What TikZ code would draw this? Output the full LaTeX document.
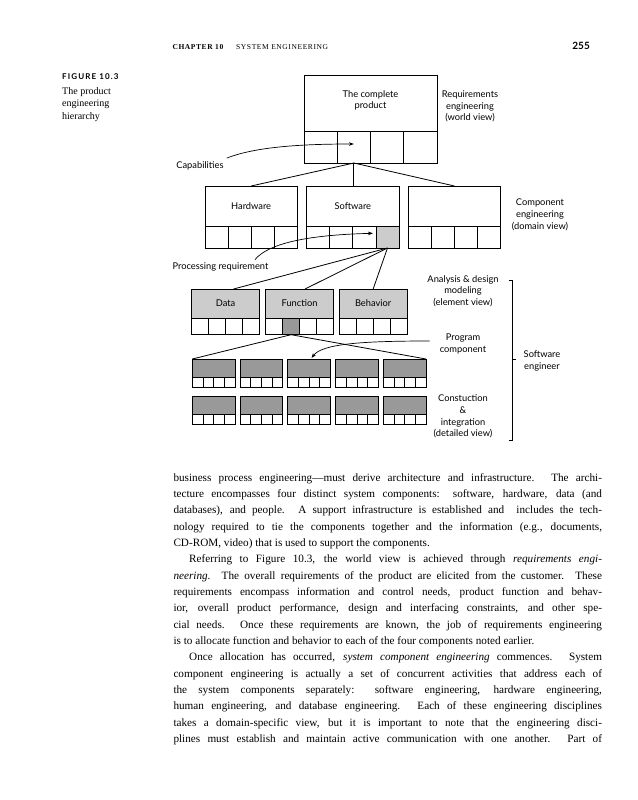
\documentclass[tikz,border=0pt]{standalone}
\usepackage{fontspec}
\setmainfont{Liberation Serif}
\newfontfamily\dsans{Lato}
\newfontfamily\hdr[LetterSpace=8]{Liberation Serif}
\newfontfamily\figlab[LetterSpace=14]{Lato}
\usetikzlibrary{calc,arrows.meta}
\definecolor{lightg}{gray}{0.80}
\definecolor{darkg}{gray}{0.60}
\newcommand\bodyfont{\fontsize{11.2}{16}\selectfont}
\newcommand\jline[1]{\makebox[428.5pt][s]{#1}}
\def\shadecol{white}
\newcommand\compbox[9]{%
  \node[bx, fill=#7, minimum width=#4pt, minimum height=#5pt] (#1) at (#2,#3) {#8};
  \foreach \k in {1,2,3,4}{%
    \ifnum\k=#9\relax\edef\cf{\shadecol}\else\def\cf{white}\fi
    \node[bx, fill=\cf, minimum width=#4pt/4, minimum height=#6pt] (#1-\k) at ($(#1.south west)+({(\k-1)*#4/4},0)$) {};
  }%
}
\tikzset{
  bx/.style={draw, line width=0.8pt, inner sep=0pt, outer sep=0pt, anchor=north west, font=\dsans\fontsize{9.3}{11}\selectfont},
  lbl/.style={font=\dsans\fontsize{9.3}{11.7}\selectfont, align=center, inner sep=0pt},
  arr/.style={line width=0.7pt, -{Stealth[length=5pt,width=3.6pt]}},
  con/.style={line width=0.8pt},
  jl/.style={anchor=base west, inner sep=0pt, font=\bodyfont},
}
\begin{document}
\begin{tikzpicture}[x=1pt,y=-1pt]
\useasboundingbox (0,0) rectangle (637,800);
% header
\node[anchor=base west, inner sep=0pt, font=\hdr\bfseries\fontsize{7.5}{9}\selectfont] (chap) at (172.3,50) {CHAPTER 10};
\node[anchor=base west, inner sep=0pt, font=\hdr\fontsize{7.5}{9}\selectfont] (sect) at (236,50) {SYSTEM ENGINEERING};
\node[anchor=base east, inner sep=0pt, font=\dsans\bfseries\fontsize{10}{12}\selectfont] (pg) at (590,50) {255};
% caption
\node[anchor=base west, inner sep=0pt, font=\figlab\bfseries\fontsize{8}{10}\selectfont] (figno) at (62,80) {FIGURE 10.3};
\node[anchor=north west, inner sep=0pt, align=left, font=\fontsize{10}{12.5}\selectfont] (figcap) at (62,87) {The product\\engineering\\hierarchy};
% boxes
\compbox{prod}{304}{75}{133}{56}{32}{white}{}{0}
\compbox{hw}{205}{186}{92.3}{40}{22}{white}{Hardware}{0}
\def\shadecol{lightg}
\compbox{sw}{306.7}{186}{92.3}{40}{22}{white}{Software}{4}
\compbox{cx}{408.3}{186}{92.3}{40}{22}{white}{}{0}
\compbox{data}{191.7}{289}{67.7}{29}{16.7}{lightg}{Data}{0}
\def\shadecol{darkg}
\compbox{func}{265.7}{289}{67.7}{29}{16.7}{lightg}{Function}{2}
\compbox{beh}{339.3}{289}{67.7}{29}{16.7}{lightg}{Behavior}{0}
\foreach \i/\xx in {1/192.3,2/240,3/287.7,4/335.7,5/383.3}{%
  \compbox{pa\i}{\xx}{359}{42.7}{18}{10}{darkg}{}{0}
  \compbox{pb\i}{\xx}{396}{42.7}{18}{10}{darkg}{}{0}
}
\node[lbl] (prodtxt) at (370.5,100.5) {The complete\\product};
% connectors
\draw[con] (prod-2.south) -- (hw.north);
\draw[con] (prod-2.south) -- (prod-2.south |- sw.north);
\draw[con] (prod-2.south) -- (cx.north);
\draw[con] (sw-4.south) -- ($(data.north)+(8,0)$);
\draw[con] (sw-4.south) -- ($(func.north)+(5.5,0)$);
\draw[con] (sw-4.south) -- (beh.north);
\draw[con] (func-2.south) -- (pa1.north west);
\draw[con] (func-2.south) -- (pa5.north east);
% labels
\node[lbl] (capab) at (200,166) {Capabilities};
\node[lbl] (procreq) at (220.5,267) {Processing requirement};
\node[lbl] (reqeng) at (470,106.5) {Requirements\\engineering\\(world view)};
\node[lbl] (compeng) at (540,215) {Component\\engineering\\(domain view)};
\node[lbl] (anal) at (463,291) {Analysis \& design\\modeling\\(element view)};
\node[lbl] (progc) at (463,344) {Program\\component};
\node[lbl] (sweng) at (542,361) {Software\\engineer};
\node[lbl] (constr) at (463,416.5) {Constuction\\\&\\integration\\(detailed view)};
% arrows
\draw[arr] ($(capab.north east)+(3,-3.5)$) .. controls (255,147) and (300,144) .. ($(prod-2.center)+(0,-3)$);
\draw[arr] ($(procreq.north)+(34.5,-3)$) .. controls (268,244) and (305,235) .. ($(sw-4.west)+(-3,-3.7)$);
\draw[arr] ($(progc.west)+(-10,-3)$) .. controls (360,341) and (322,344) .. ($(pa3.north)+(2.5,-1)$);
% bracket
\coordinate (bt) at (512.7,280);
\coordinate (bb) at (512.7,440);
\coordinate (bm) at (512.7,359.5);
\draw[con] ($(bt)+(-3.5,0)$) -- (bt) -- (bb) -- ($(bb)+(-3.5,0)$);
\draw[con] (bm) -- ++(3,0);
% body text
\node[jl] (l1) at (173.3,481) {\jline{business process engineering—must derive architecture and infrastructure. The archi-}};
\node[jl] (l2) at (173.3,497.35) {\jline{tecture encompasses four distinct system components: software, hardware, data (and}};
\node[jl] (l3) at (173.3,513.7) {\jline{databases), and people. A support infrastructure is established and\ \ includes the tech-}};
\node[jl] (l4) at (173.3,530.05) {\jline{nology required to tie the components together and the information (e.g., documents,}};
\node[jl] (l5) at (173.3,546.4) {CD-ROM, video) that is used to support the components.};
\node[jl] (l6) at (173.3,562.75) {\jline{\hspace*{15.7pt}Referring to Figure 10.3, the world view is achieved through \emph{requirements engi-}}};
\node[jl] (l7) at (173.3,579.1) {\jline{\emph{neering}. The overall requirements of the product are elicited from the customer. These}};
\node[jl] (l8) at (173.3,595.45) {\jline{requirements encompass information and control needs, product function and behav-}};
\node[jl] (l9) at (173.3,611.8) {\jline{ior, overall product performance, design and interfacing constraints, and other spe-}};
\node[jl] (l10) at (173.3,628.15) {\jline{cial needs. Once these requirements are known, the job of requirements engineering}};
\node[jl] (l11) at (173.3,644.5) {is to allocate function and behavior to each of the four components noted earlier.};
\node[jl] (l12) at (173.3,660.85) {\jline{\hspace*{15.7pt}Once allocation has occurred, \emph{system component engineering} commences. System}};
\node[jl] (l13) at (173.3,677.2) {\jline{component engineering is actually a set of concurrent activities that address each of}};
\node[jl] (l14) at (173.3,693.55) {\jline{the system components separately: software engineering, hardware engineering,}};
\node[jl] (l15) at (173.3,709.9) {\jline{human engineering, and database engineering. Each of these engineering disciplines}};
\node[jl] (l16) at (173.3,726.25) {\jline{takes a domain-specific view, but it is important to note that the engineering disci-}};
\node[jl] (l17) at (173.3,742.6) {\jline{plines must establish and maintain active communication with one another. Part of}};
\end{tikzpicture}
\end{document}
